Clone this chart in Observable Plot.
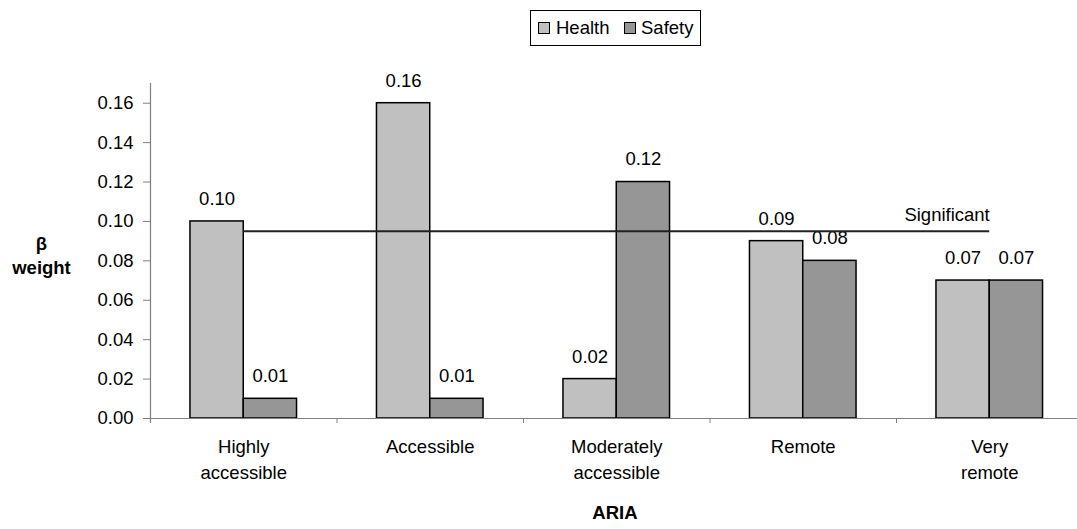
<!DOCTYPE html>
<html>
<head>
<meta charset="utf-8">
<script src="https://cdn.jsdelivr.net/npm/d3@7"></script>
<script src="https://cdn.jsdelivr.net/npm/@observablehq/plot@0.6"></script>
<style>
  html, body { margin: 0; padding: 0; background: #fff; }
  body { width: 1077px; height: 529px; overflow: hidden; font-family: "Liberation Sans", Arial, sans-serif; }
  #legend { position: relative; height: 55px; }
  #legend .box { position: absolute; left: 530px; top: 10px; width: 169px; height: 34px; border: 1px solid #000; background: #fff; }
  #legend .sw { position: absolute; top: 11px; width: 10px; height: 10px; border: 1px solid #000; }
  #legend .lab { position: absolute; top: 0; line-height: 34px; font-size: 18.5px; color: #000; }
  #chart svg { display: block; }
</style>
</head>
<body>
<div id="legend"></div>
<div id="chart"></div>
<script>
// ---- data ----
const categories = ["Highly accessible", "Accessible", "Moderately accessible", "Remote", "Very remote"];
const categoryLabels = ["Highly\naccessible", "Accessible", "Moderately\naccessible", "Remote", "Very\nremote"];
const series = ["Health", "Safety"];
const health = [0.10, 0.16, 0.02, 0.09, 0.07];
const safety = [0.01, 0.01, 0.12, 0.08, 0.07];
const yTicks = [0, 0.02, 0.04, 0.06, 0.08, 0.10, 0.12, 0.14, 0.16];
const significantValue = 0.095;
const significantLabel = "Significant";
const xTitle = "ARIA";
const yTitle = "β\nweight";

// ---- styles ----
const colors = ["#c0c0c0", "#969696"];
const axisGray = "#808080";
const font = "'Liberation Sans', Arial, sans-serif";
const fs = 18.5;
const bw = 2 / 7; // bar width in category steps

// legend (HTML)
const legend = document.getElementById("legend");
const box = document.createElement("div");
box.className = "box";
legend.appendChild(box);
const legendPos = [[7, 25], [93, 110]];
series.forEach((s, j) => {
  const sw = document.createElement("div");
  sw.className = "sw";
  sw.style.left = legendPos[j][0] + "px";
  sw.style.background = colors[j];
  box.appendChild(sw);
  const lab = document.createElement("div");
  lab.className = "lab";
  lab.style.left = legendPos[j][1] + "px";
  lab.textContent = s;
  box.appendChild(lab);
});

const values = [health, safety];
const rows = categories.flatMap((c, i) =>
  series.map((s, j) => ({category: c, series: s, value: values[j][i], i, j}))
);
const center = (i) => i + 0.5;
const boundaries = d3.range(categories.length + 1);
const centers = categories.map((c, i) => center(i));

const chart = Plot.plot({
  width: 1077,
  height: 474,
  marginLeft: 150,
  marginRight: 0,
  marginTop: 28,
  marginBottom: 111,
  style: {fontFamily: font, fontSize: fs + "px", color: "#000", background: "#fff", overflow: "visible"},
  x: {type: "linear", domain: [0, categories.length], range: [150, 1082.5]},
  y: {domain: [0, 0.17], range: [363, 28]},
  color: {domain: series, range: colors},
  marks: [
    Plot.rect(rows, {
      x1: d => center(d.i) + (d.j - 1) * bw,
      x2: d => center(d.i) + d.j * bw,
      y1: 0,
      y2: "value",
      fill: "series",
      stroke: "#000",
      strokeWidth: 1.5
    }),
    Plot.ruleY([0], {stroke: axisGray, strokeWidth: 1.2}),
    Plot.ruleX([0], {stroke: axisGray, strokeWidth: 1.2, insetBottom: -5}),
    Plot.axisY({ticks: yTicks, tickFormat: d3.format(".2f"), tickSize: 7, tickPadding: 10,
      stroke: axisGray, fill: "#000", fontSize: fs, label: null}),
    Plot.axisX({ticks: boundaries, tickFormat: () => "", tickSize: 5, stroke: axisGray, label: null}),
    Plot.axisX({ticks: centers, tickSize: 0, tickPadding: 17,
      tickFormat: d => categoryLabels[Math.round(d - 0.5)],
      lineHeight: 1.37, fontSize: fs, fill: "#000", label: null}),
    Plot.text(rows, {
      x: d => center(d.i) + (d.j - 0.5) * bw,
      y: "value",
      text: d => d3.format(".2f")(d.value),
      dy: -22.5,
      fontSize: fs,
      fill: "#000"
    }),
    Plot.ruleY([significantValue], {
      x1: center(0), x2: center(categories.length - 1),
      stroke: "#222", strokeWidth: 2
    }),
    Plot.text([significantLabel], {
      x: center(categories.length - 1), y: significantValue,
      textAnchor: "end", dy: -16, fontSize: fs, fill: "#000"
    }),
    Plot.text([yTitle], {
      frameAnchor: "left", textAnchor: "middle", dx: -109, dy: 3, lineHeight: 1.33,
      fontWeight: "bold", fontSize: fs, fill: "#000"
    }),
    Plot.text([xTitle], {
      x: categories.length / 2 - 0.01, frameAnchor: "bottom", dy: 100,
      fontWeight: "bold", fontSize: fs, fill: "#000"
    })
  ]
});
document.getElementById("chart").appendChild(chart);
</script>
</body>
</html>
